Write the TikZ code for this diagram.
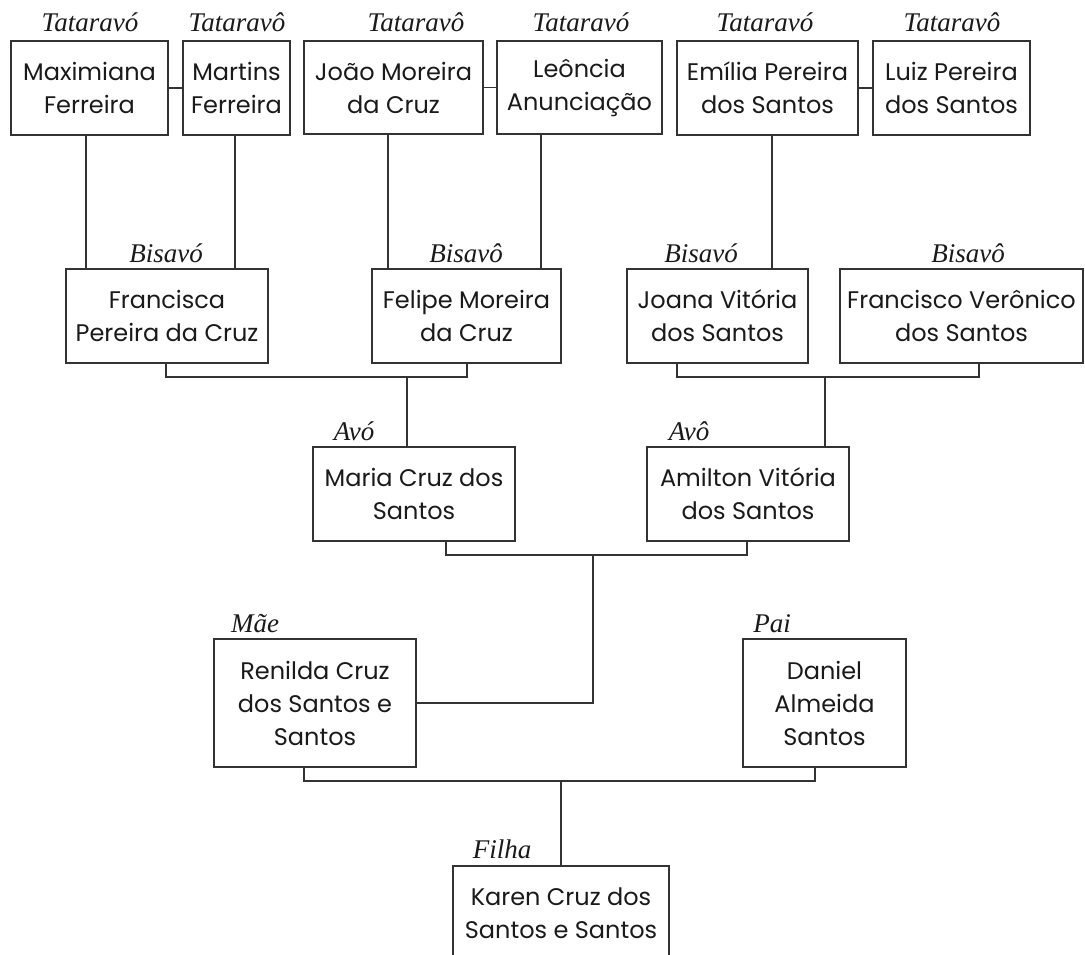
\documentclass[tikz,border=0pt]{standalone}
\usepackage{fontspec}
\setmainfont{Poppins}
\newfontfamily\labelfont{Liberation Serif}
\definecolor{ink}{HTML}{1A1A1A}
\definecolor{edge}{HTML}{333333}
\begin{document}
\begin{tikzpicture}[x=1pt,y=-1pt,
  pbox/.style={draw=edge, line width=1.2pt, rectangle, inner sep=0pt, align=center,
    text=ink, font=\fontsize{24}{33}\selectfont},
  rel/.style={anchor=base, inner sep=0pt, text=ink, font=\labelfont\itshape\fontsize{27}{30}\selectfont},
  link/.style={draw=edge, line width=1.2pt}]
\clip (0,0) rectangle (1085,955);
\fill[white] (0,0) rectangle (1085,955);
% generation 1
\node[pbox, minimum width=157pt, minimum height=94pt] (max) at (89.5,88) {Maximiana\\Ferreira};
\node[pbox, minimum width=107pt, minimum height=94pt] (mrt) at (236.5,88) {Martins\\Ferreira};
\node[pbox, minimum width=179pt, minimum height=93pt] (joa) at (393.5,87.5) {João Moreira\\da Cruz};
\node[pbox, minimum width=165pt, minimum height=93pt] (leo) at (579.5,87.5) {Leôncia\\Anunciação};
\node[pbox, minimum width=181pt, minimum height=94pt] (emi) at (767.5,88) {Emília Pereira\\dos Santos};
\node[pbox, minimum width=157pt, minimum height=94pt] (lui) at (951.5,88) {Luiz Pereira\\dos Santos};
% generation 2
\node[pbox, minimum width=202pt, minimum height=94pt] (fra) at (167,316) {Francisca\\Pereira da Cruz};
\node[pbox, minimum width=189pt, minimum height=94pt] (fel) at (466.5,316) {Felipe Moreira\\da Cruz};
\node[pbox, minimum width=181pt, minimum height=94pt] (jon) at (717.5,316) {Joana Vitória\\dos Santos};
\node[pbox, minimum width=243pt, minimum height=94pt] (frc) at (961.5,316) {Francisco Verônico\\dos Santos};
% generation 3
\node[pbox, minimum width=202pt, minimum height=94pt] (mar) at (414,494) {Maria Cruz dos\\Santos};
\node[pbox, minimum width=202pt, minimum height=94pt] (ami) at (748,494) {Amilton Vitória\\dos Santos};
% generation 4
\node[pbox, minimum width=202pt, minimum height=128pt] (ren) at (315,703) {Renilda Cruz\\dos Santos e\\Santos};
\node[pbox, minimum width=163pt, minimum height=128pt] (dan) at (824.5,703) {Daniel\\Almeida\\Santos};
% generation 5
\node[pbox, minimum width=216pt, minimum height=94pt] (kar) at (561,913) {Karen Cruz dos\\Santos e Santos};
% labels
\node[rel] (l1) at (90,32) {Tataravó};
\node[rel] (l2) at (237,32) {Tataravô};
\node[rel] (l3) at (416,32) {Tataravô};
\node[rel] (l4) at (581,32) {Tataravó};
\node[rel] (l5) at (765,32) {Tataravó};
\node[rel] (l6) at (952,32) {Tataravô};
\node[rel] (l7) at (166,262) {Bisavó};
\node[rel] (l8) at (466,262) {Bisavô};
\node[rel] (l9) at (701,262) {Bisavó};
\node[rel] (l10) at (968,262) {Bisavô};
\node[rel] (l11) at (354,440) {Avó};
\node[rel] (l12) at (689,440) {Avô};
\node[rel] (l13) at (255,632) {Mãe};
\node[rel] (l14) at (772,632) {Pai};
\node[rel] (l15) at (502,858) {Filha};
% junction points
\coordinate (j1) at (407,377);
\coordinate (j2) at (825,377);
\coordinate (j3) at (593,555);
\coordinate (j4) at (561,781);
% couples in generation 1
\draw[link] (max.east) -- (mrt.west);
\draw[link] (joa.east) -- (leo.west);
\draw[link] (emi.east) -- (lui.west);
% descent to generation 2
\draw[link] ([xshift=-3.5pt]max.south) -- ([xshift=-3.5pt]max.south |- fra.north);
\draw[link] ([xshift=-1.5pt]mrt.south) -- ([xshift=-1.5pt]mrt.south |- fra.north);
\draw[link] ([xshift=-5.5pt]joa.south) -- ([xshift=-5.5pt]joa.south |- fel.north);
\draw[link] ([xshift=-38.5pt]leo.south) -- ([xshift=-38.5pt]leo.south |- fel.north);
\draw[link] ([xshift=4.5pt]emi.south) -- ([xshift=4.5pt]emi.south |- jon.north);
% generation 2 couples
\draw[link] ([xshift=-1pt]fra.south) |- (j1) -| ([xshift=0.5pt]fel.south);
\draw[link] (j1) -- (j1 |- mar.north);
\draw[link] ([xshift=-40.5pt]jon.south) |- (j2) -| ([xshift=17.5pt]frc.south);
\draw[link] (j2) -- (j2 |- ami.north);
% generation 3 couple
\draw[link] ([xshift=32pt]mar.south) |- (j3) -| ([xshift=-1pt]ami.south);
\draw[link] (j3) |- (ren.east);
% parents
\draw[link] ([xshift=-11pt]ren.south) |- (j4) -| ([xshift=-9.5pt]dan.south);
\draw[link] (j4) -- (kar.north);
\end{tikzpicture}
\end{document}
